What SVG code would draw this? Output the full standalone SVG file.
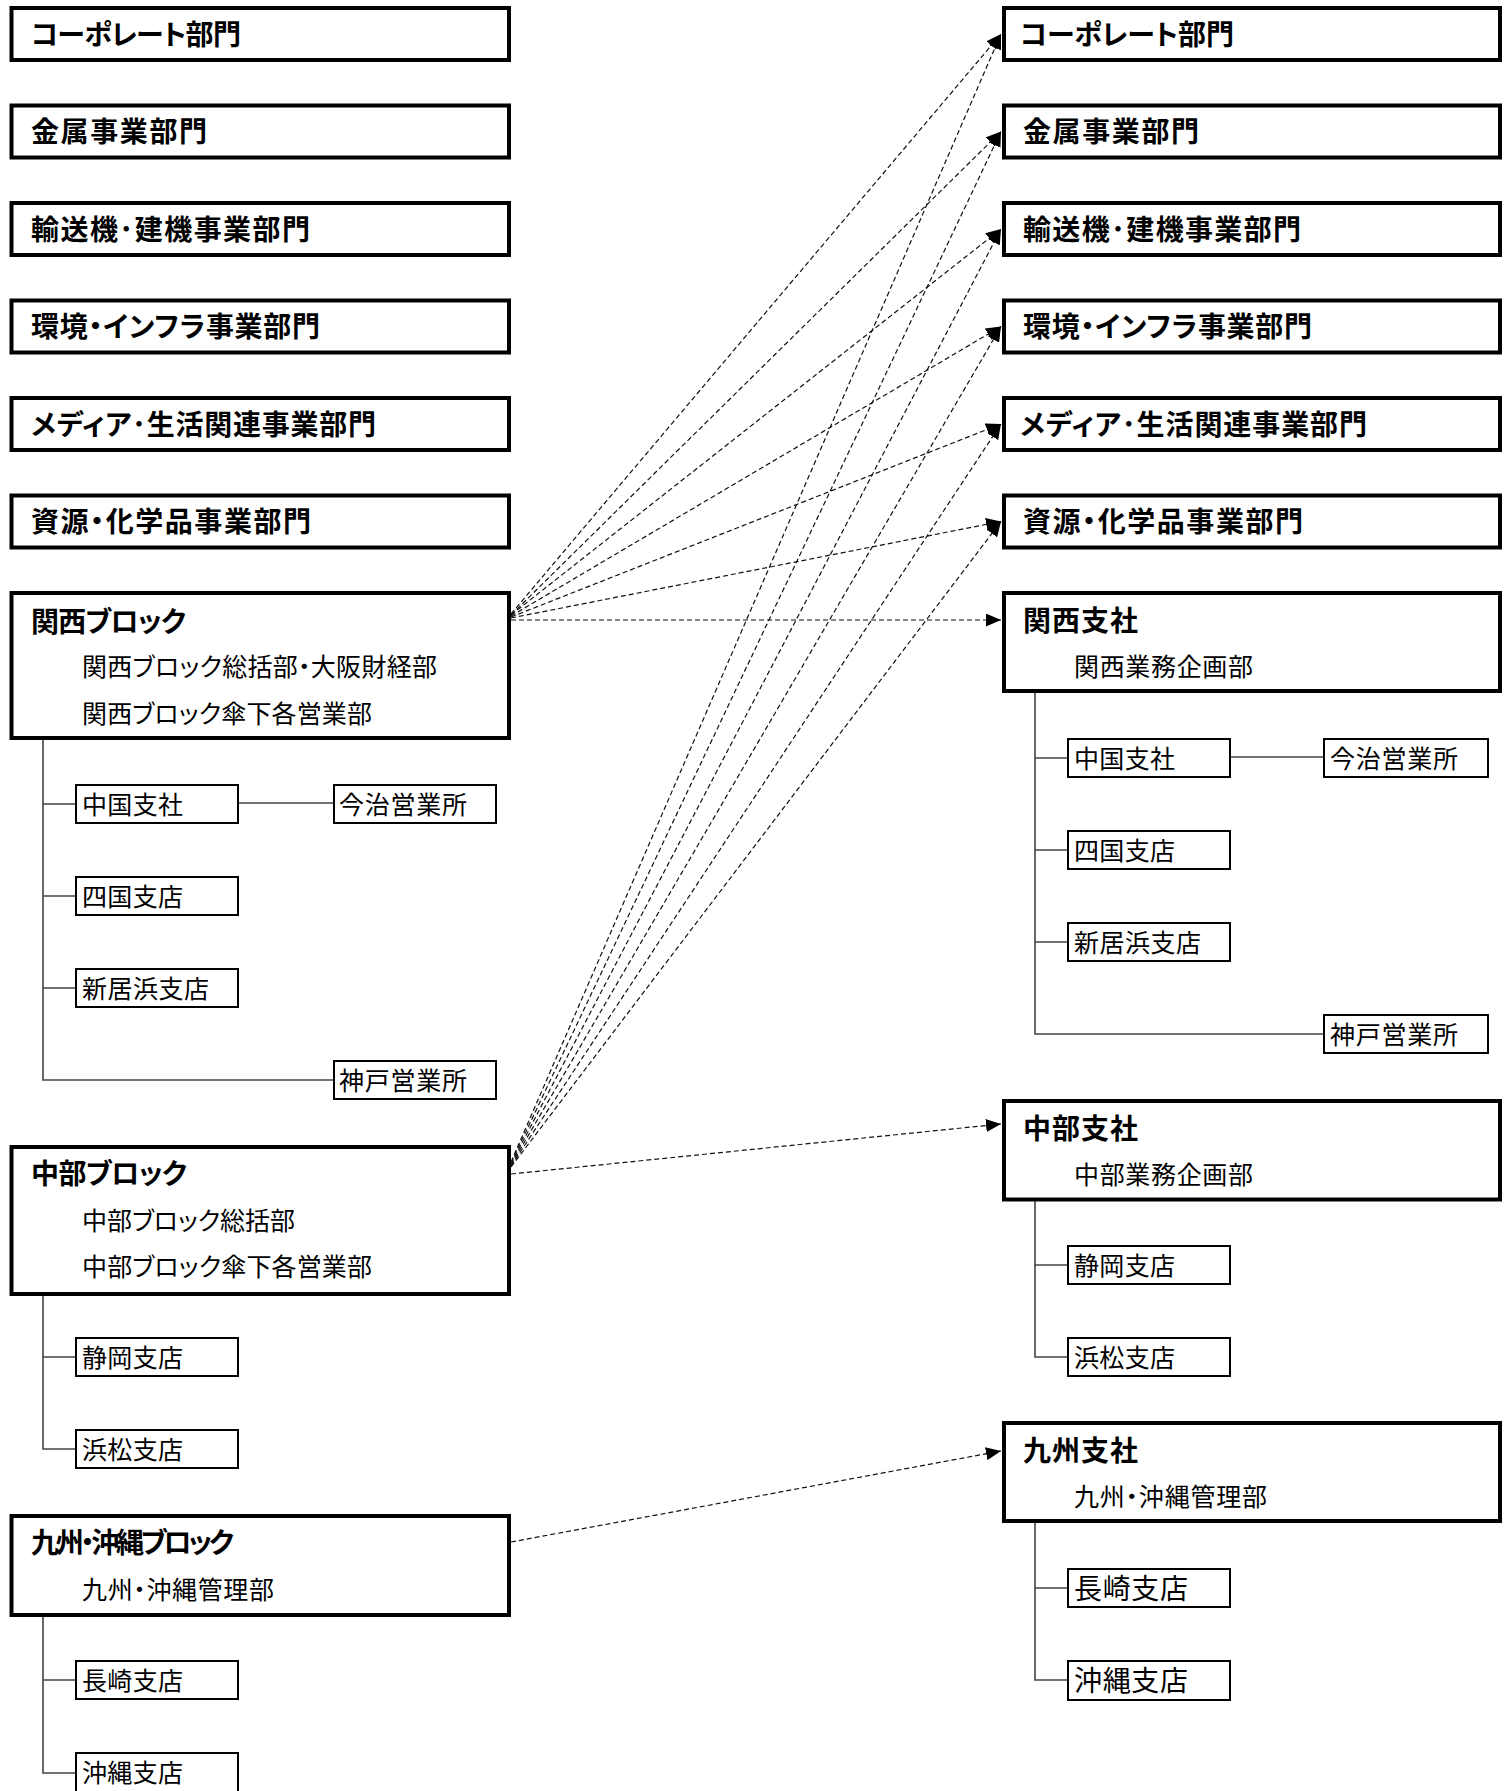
<svg xmlns="http://www.w3.org/2000/svg" width="1511" height="1791" viewBox="0 0 1511 1791">
<style>
text{font-family:"Noto Sans CJK JP","Noto Sans",sans-serif;fill:#000;font-feature-settings:"palt"}
.t{font-size:28px;font-weight:bold}
.s{font-size:25px}
.b{fill:#fff;stroke:#000;stroke-width:4}
.sb{fill:#fff;stroke:#000;stroke-width:2}
.tree{fill:none;stroke:#444;stroke-width:1.6}
.c{fill:none;stroke:#111;stroke-width:1.2;stroke-dasharray:5 3}
</style>
<defs>
<marker id="ah" markerUnits="userSpaceOnUse" markerWidth="16" markerHeight="13" refX="15" refY="6.5" orient="auto">
<path d="M0,0 L15,6.5 L0,13 z" fill="#000"/>
</marker>
</defs>

<g id="tree-lines">
<path class="tree" d="M43,739 V1080 H334 M43,804 H76 M238,803 H334 M43,896 H76 M43,988 H76"/>
<path class="tree" d="M43,1295 V1449 H76 M43,1357 H76"/>
<path class="tree" d="M43,1610 V1773 H76 M43,1680 H76"/>
<path class="tree" d="M1035,692 V1034 H1324 M1035,758 H1068 M1230,757 H1324 M1035,850 H1068 M1035,942 H1068"/>
<path class="tree" d="M1035,1200 V1357 H1068 M1035,1265 H1068"/>
<path class="tree" d="M1035,1518 V1680 H1068 M1035,1588 H1068"/>
</g>

<g id="left-corporate"><rect class="b" x="11.5" y="8" width="497.5" height="52"/><text class="t" x="31" y="44.5" textLength="210">コーポレート部門</text></g>
<g id="left-metal"><rect class="b" x="11.5" y="105.5" width="497.5" height="52"/><text class="t" x="31" y="142" textLength="176">金属事業部門</text></g>
<g id="left-transport"><rect class="b" x="11.5" y="203" width="497.5" height="52"/><text class="t" x="31" y="239.5" textLength="279">輸送機･建機事業部門</text></g>
<g id="left-env"><rect class="b" x="11.5" y="300.5" width="497.5" height="52"/><text class="t" x="31" y="337" textLength="289">環境・インフラ事業部門</text></g>
<g id="left-media"><rect class="b" x="11.5" y="398" width="497.5" height="52"/><text class="t" x="31" y="434.5" textLength="345">メディア･生活関連事業部門</text></g>
<g id="left-resources"><rect class="b" x="11.5" y="495.5" width="497.5" height="52"/><text class="t" x="31" y="532" textLength="280">資源・化学品事業部門</text></g>

<g id="left-kansai"><rect class="b" x="11.5" y="593" width="497.5" height="145"/>
<text class="t" x="31" y="632" textLength="155">関西ブロック</text>
<text class="s" x="82" y="676" textLength="355">関西ブロック総括部・大阪財経部</text>
<text class="s" x="82" y="722.5" textLength="290">関西ブロック傘下各営業部</text></g>
<g id="left-chugoku"><rect class="sb" x="76" y="785" width="162" height="38"/><text class="s" x="82" y="813.5" textLength="101">中国支社</text></g>
<g id="left-imabari"><rect class="sb" x="334" y="785" width="162" height="38"/><text class="s" x="339" y="813.5" textLength="128">今治営業所</text></g>
<g id="left-shikoku"><rect class="sb" x="76" y="877" width="162" height="38"/><text class="s" x="82" y="905.5" textLength="101">四国支店</text></g>
<g id="left-niihama"><rect class="sb" x="76" y="969" width="162" height="38"/><text class="s" x="82" y="997.5" textLength="127">新居浜支店</text></g>
<g id="left-kobe"><rect class="sb" x="334" y="1061" width="162" height="38"/><text class="s" x="339" y="1089.5" textLength="128">神戸営業所</text></g>

<g id="left-chubu"><rect class="b" x="11.5" y="1147" width="497.5" height="147"/>
<text class="t" x="31" y="1184" textLength="156">中部ブロック</text>
<text class="s" x="82" y="1229.5" textLength="213">中部ブロック総括部</text>
<text class="s" x="82" y="1276" textLength="290">中部ブロック傘下各営業部</text></g>
<g id="left-shizuoka"><rect class="sb" x="76" y="1338" width="162" height="38"/><text class="s" x="82" y="1366.5" textLength="101">静岡支店</text></g>
<g id="left-hamamatsu"><rect class="sb" x="76" y="1430" width="162" height="38"/><text class="s" x="82" y="1458.5" textLength="101">浜松支店</text></g>

<g id="left-kyushu"><rect class="b" x="11.5" y="1516" width="497.5" height="99"/>
<text class="t" x="31" y="1553" textLength="203">九州・沖縄ブロック</text>
<text class="s" x="82" y="1598.5" textLength="192">九州・沖縄管理部</text></g>
<g id="left-nagasaki"><rect class="sb" x="76" y="1661" width="162" height="38"/><text class="s" x="82" y="1689.5" textLength="101">長崎支店</text></g>
<g id="left-okinawa"><rect class="sb" x="76" y="1753" width="162" height="42"/><text class="s" x="82" y="1781.5" textLength="101">沖縄支店</text></g>

<g id="right-corporate"><rect class="b" x="1004" y="8" width="496" height="52"/><text class="t" x="1020" y="44.5" textLength="214">コーポレート部門</text></g>
<g id="right-metal"><rect class="b" x="1004" y="105.5" width="496" height="52"/><text class="t" x="1023" y="142" textLength="176">金属事業部門</text></g>
<g id="right-transport"><rect class="b" x="1004" y="203" width="496" height="52"/><text class="t" x="1023" y="239.5" textLength="278">輸送機･建機事業部門</text></g>
<g id="right-env"><rect class="b" x="1004" y="300.5" width="496" height="52"/><text class="t" x="1023" y="337" textLength="289">環境・インフラ事業部門</text></g>
<g id="right-media"><rect class="b" x="1004" y="398" width="496" height="52"/><text class="t" x="1020" y="434.5" textLength="347">メディア･生活関連事業部門</text></g>
<g id="right-resources"><rect class="b" x="1004" y="495.5" width="496" height="52"/><text class="t" x="1023" y="532" textLength="280">資源・化学品事業部門</text></g>

<g id="right-kansai"><rect class="b" x="1004" y="593" width="496" height="98"/>
<text class="t" x="1023" y="630.5" textLength="115">関西支社</text>
<text class="s" x="1074" y="676" textLength="179">関西業務企画部</text></g>
<g id="right-chugoku"><rect class="sb" x="1068" y="739" width="162" height="38"/><text class="s" x="1074" y="767.5" textLength="101">中国支社</text></g>
<g id="right-imabari"><rect class="sb" x="1324" y="739" width="164" height="38"/><text class="s" x="1330" y="767.5" textLength="128">今治営業所</text></g>
<g id="right-shikoku"><rect class="sb" x="1068" y="831" width="162" height="38"/><text class="s" x="1074" y="859.5" textLength="101">四国支店</text></g>
<g id="right-niihama"><rect class="sb" x="1068" y="923" width="162" height="38"/><text class="s" x="1074" y="951.5" textLength="127">新居浜支店</text></g>
<g id="right-kobe"><rect class="sb" x="1324" y="1015" width="164" height="38"/><text class="s" x="1330" y="1043.5" textLength="128">神戸営業所</text></g>

<g id="right-chubu"><rect class="b" x="1004" y="1101" width="496" height="98.5"/>
<text class="t" x="1023" y="1138.5" textLength="115">中部支社</text>
<text class="s" x="1074" y="1184" textLength="179">中部業務企画部</text></g>
<g id="right-shizuoka"><rect class="sb" x="1068" y="1246" width="162" height="38"/><text class="s" x="1074" y="1274.5" textLength="101">静岡支店</text></g>
<g id="right-hamamatsu"><rect class="sb" x="1068" y="1338" width="162" height="38"/><text class="s" x="1074" y="1366.5" textLength="101">浜松支店</text></g>

<g id="right-kyushu"><rect class="b" x="1004" y="1423" width="496" height="98"/>
<text class="t" x="1023" y="1460.5" textLength="115">九州支社</text>
<text class="s" x="1074" y="1506" textLength="193">九州・沖縄管理部</text></g>
<g id="right-nagasaki"><rect class="sb" x="1068" y="1569" width="162" height="38"/><text class="s" x="1074" y="1598.5" style="font-size:28px" textLength="114">長崎支店</text></g>
<g id="right-okinawa"><rect class="sb" x="1068" y="1661" width="162" height="39"/><text class="s" x="1074" y="1690.5" style="font-size:28px" textLength="114">沖縄支店</text></g>

<g id="connectors">
<line class="c" x1="511" y1="614" x2="1001" y2="34" marker-end="url(#ah)"/>
<line class="c" x1="511" y1="615" x2="1001" y2="131.5" marker-end="url(#ah)"/>
<line class="c" x1="511" y1="615" x2="1001" y2="229" marker-end="url(#ah)"/>
<line class="c" x1="511" y1="616" x2="1001" y2="326.5" marker-end="url(#ah)"/>
<line class="c" x1="511" y1="617" x2="1001" y2="424" marker-end="url(#ah)"/>
<line class="c" x1="511" y1="618" x2="1001" y2="521.5" marker-end="url(#ah)"/>
<line class="c" x1="511" y1="620" x2="1001" y2="620" marker-end="url(#ah)"/>
<line class="c" x1="511" y1="1162" x2="1001" y2="34" marker-end="url(#ah)"/>
<line class="c" x1="511" y1="1163" x2="1001" y2="131.5" marker-end="url(#ah)"/>
<line class="c" x1="511" y1="1164" x2="1001" y2="229" marker-end="url(#ah)"/>
<line class="c" x1="511" y1="1165" x2="1001" y2="326.5" marker-end="url(#ah)"/>
<line class="c" x1="511" y1="1166" x2="1001" y2="424" marker-end="url(#ah)"/>
<line class="c" x1="511" y1="1167" x2="1001" y2="521.5" marker-end="url(#ah)"/>
<line class="c" x1="511" y1="1174" x2="1001" y2="1124" marker-end="url(#ah)"/>
<line class="c" x1="511" y1="1542" x2="1001" y2="1451" marker-end="url(#ah)"/>
</g>
</svg>
